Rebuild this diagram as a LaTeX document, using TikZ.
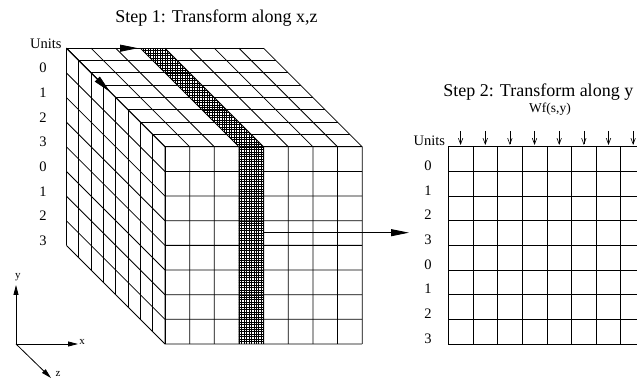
\documentclass[tikz,border=0pt]{standalone}
\usepackage{fontspec}
\setmainfont{Liberation Serif}
\usetikzlibrary{arrows.meta}

\begin{document}
\begin{tikzpicture}[x=1pt, y=1pt, line width=0.8pt,
	every node/.style={inner sep=0pt, font=\fontsize{14.5}{16}\selectfont},
	steptitle/.style={font=\fontsize{18}{20}\selectfont},
	axislabel/.style={font=\fontsize{11}{12}\selectfont},
	hatch/.style={line width=0.35pt},
	>={Triangle[length=18pt,width=7pt]}]
	\useasboundingbox (0,0) rectangle (637,379);
	\begin{scope}
		\clip (140.35,330.8) -- (165,330.8) -- (263.6,232.2) -- (263.6,35) -- (238.95,35) -- (238.95,232.2) -- cycle;
		\draw[hatch, shift={(238.95,35)}] (-98.6,0) grid[step=2.465] (24.65,295.8);
	\end{scope}
	\foreach \i in {0,...,8} {
		\draw (165+\i*24.65,35) -- (165+\i*24.65,232.2) -- (66.4+\i*24.65,330.8);
		\draw (66.4,133.6+\i*24.65) -- (165,35+\i*24.65) -- (362.2,35+\i*24.65);
		\draw (165-\i*12.325,35+\i*12.325) -- (165-\i*12.325,232.2+\i*12.325) -- (362.2-\i*12.325,232.2+\i*12.325);
		\draw (448.3+\i*24.65,35) -- (448.3+\i*24.65,233);
		\draw (448.3,35+\i*24.65) -- (645.5,35+\i*24.65);
	}
	\foreach \d [count=\j] in {0,1,2,3,0,1,2,3} {
		\node[anchor=base] (cubeunit\j) at (43,330.8-\j*24.65) {\d};
		\node[anchor=base] (planeunit\j) at (428,233-\j*24.65) {\d};
	}
	\node[anchor=base east] (cubeunits) at (62,330.8) {Units};
	\node[anchor=base east] (planeunits) at (445.5,233) {Units};
	\node[steptitle, anchor=base west] (step1) at (115,356) {Step 1: Transform along x,z};
	\node[steptitle, anchor=base west] (step2) at (443,282) {Step 2: Transform along y};
	\node[anchor=base, font=\fontsize{13.5}{15}\selectfont] (wf) at (550,266) {Wf(s,y)};
	\foreach \i in {0,...,7} {
		\coordinate (wtop\i) at (460.6+\i*24.65,248);
		\coordinate (wtip\i) at (460.6+\i*24.65,234);
		\draw[-{Straight Barb[length=6pt,width=4.5pt]}, line width=0.6pt] (wtop\i) -- (wtip\i);
	}
	\coordinate (corner) at (66.4,330.8);
	\coordinate (xrun) at (138,330.8);
	\coordinate (zrun) at (110,287.2);
	\draw[->] (corner) -- (xrun);
	\draw[->] (corner) -- (zrun);
	\coordinate (slab) at (263.6,146.3);
	\coordinate (plane) at (409,146.3);
	\draw[->] (slab) -- (plane);
	\coordinate (origin) at (16,35);
	\coordinate (xtip) at (78,35);
	\coordinate (ytip) at (16,94);
	\coordinate (ztip) at (51,1);
	\draw[-{Triangle[length=10pt,width=5pt]}] (origin) -- (xtip);
	\draw[-{Triangle[length=10pt,width=5pt]}] (origin) -- (ytip);
	\draw[-{Triangle[length=10pt,width=5pt]}] (origin) -- (ztip);
	\node[axislabel, anchor=west] (xname) at (79,37) {x};
	\node[axislabel] (yname) at (18,102) {y};
	\node[axislabel] (zname) at (58,5) {z};
\end{tikzpicture}
\end{document}
